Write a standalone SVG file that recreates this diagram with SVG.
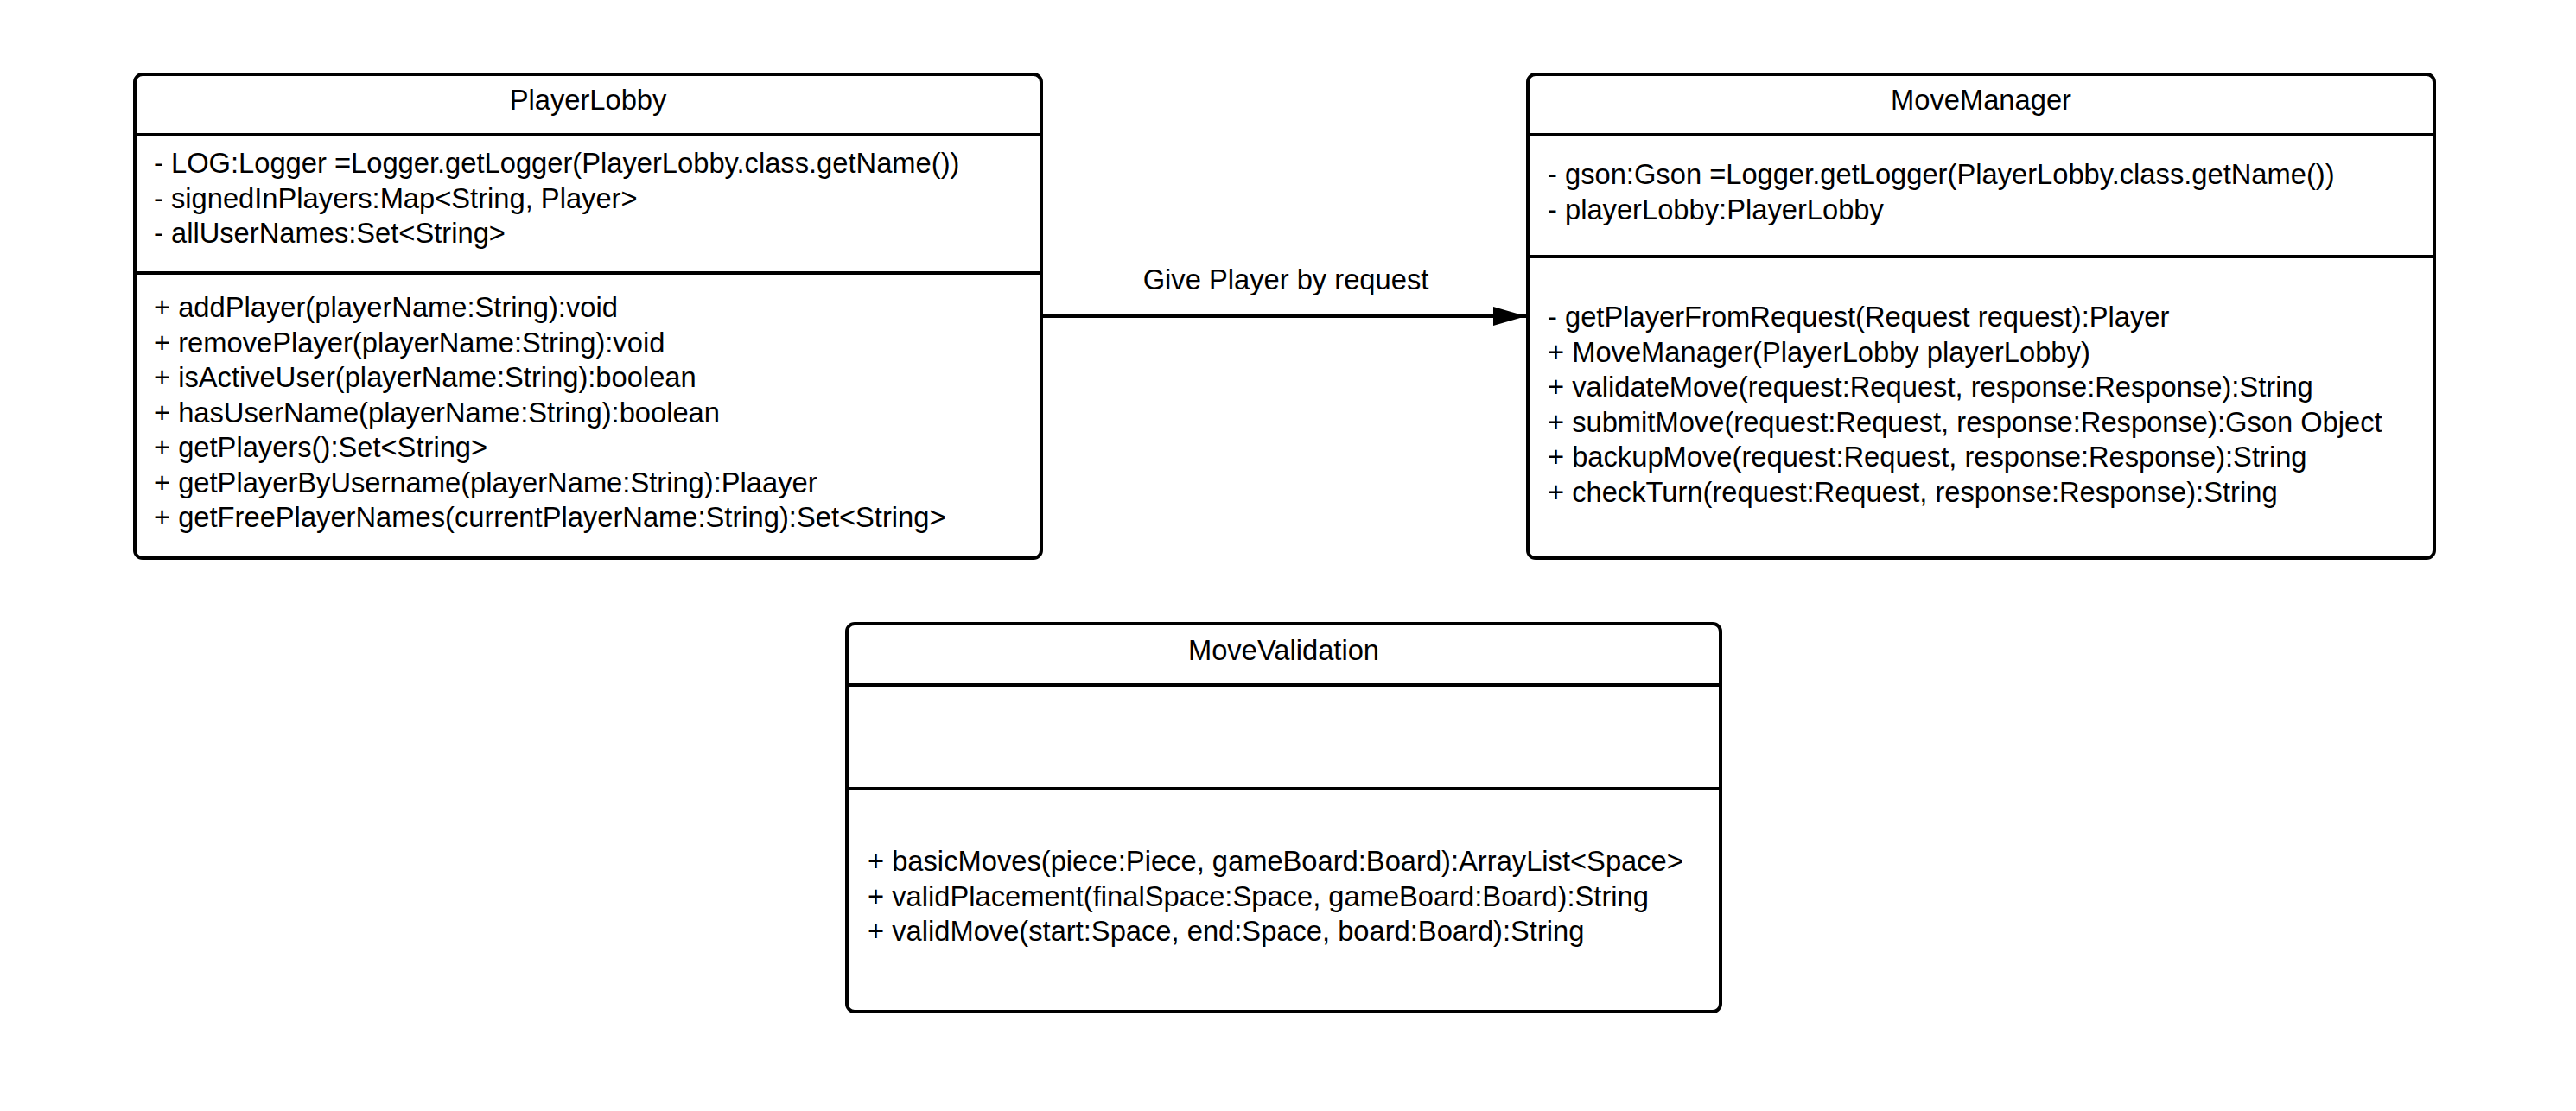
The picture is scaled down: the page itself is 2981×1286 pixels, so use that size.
<svg xmlns="http://www.w3.org/2000/svg" width="2981" height="1286" viewBox="0 0 2981 1286">
<style>
.box{fill:#fff;stroke:#000;stroke-width:4}
.div{stroke:#000;stroke-width:4}
.t{font-family:"Liberation Sans",Arial,sans-serif;font-size:32.7px;fill:#000}
.c{text-anchor:middle}
.conn{stroke:#000;stroke-width:4;fill:none}
</style>
<defs>
<marker id="arr" markerUnits="userSpaceOnUse" markerWidth="40" markerHeight="24" refX="38" refY="12" orient="auto">
<path d="M0,1 L38,12 L0,23 Z" fill="#000"/>
</marker>
</defs>
<rect width="2981" height="1286" fill="#fff"/>
<g id="PlayerLobby">
<rect class="box" x="156" y="86" width="1049" height="560" rx="9"/>
<line class="div" x1="156" y1="156" x2="1205" y2="156"/>
<line class="div" x1="156" y1="316" x2="1205" y2="316"/>
<text class="t c" x="680.5" y="127">PlayerLobby</text>
<text class="t" x="178" y="200">- LOG:Logger =Logger.getLogger(PlayerLobby.class.getName())</text>
<text class="t" x="178" y="240.5">- signedInPlayers:Map&lt;String, Player&gt;</text>
<text class="t" x="178" y="281">- allUserNames:Set&lt;String&gt;</text>
<text class="t" x="178" y="367">+ addPlayer(playerName:String):void</text>
<text class="t" x="178" y="407.5">+ removePlayer(playerName:String):void</text>
<text class="t" x="178" y="448">+ isActiveUser(playerName:String):boolean</text>
<text class="t" x="178" y="488.5">+ hasUserName(playerName:String):boolean</text>
<text class="t" x="178" y="529">+ getPlayers():Set&lt;String&gt;</text>
<text class="t" x="178" y="569.5">+ getPlayerByUsername(playerName:String):Plaayer</text>
<text class="t" x="178" y="610">+ getFreePlayerNames(currentPlayerName:String):Set&lt;String&gt;</text>
</g>
<g id="MoveManager">
<rect class="box" x="1768" y="86" width="1049" height="560" rx="9"/>
<line class="div" x1="1768" y1="156" x2="2817" y2="156"/>
<line class="div" x1="1768" y1="297" x2="2817" y2="297"/>
<text class="t c" x="2292.5" y="127">MoveManager</text>
<text class="t" x="1791" y="213">- gson:Gson =Logger.getLogger(PlayerLobby.class.getName())</text>
<text class="t" x="1791" y="253.5">- playerLobby:PlayerLobby</text>
<text class="t" x="1791" y="378">- getPlayerFromRequest(Request request):Player</text>
<text class="t" x="1791" y="418.5">+ MoveManager(PlayerLobby playerLobby)</text>
<text class="t" x="1791" y="459">+ validateMove(request:Request, response:Response):String</text>
<text class="t" x="1791" y="499.5">+ submitMove(request:Request, response:Response):Gson Object</text>
<text class="t" x="1791" y="540">+ backupMove(request:Request, response:Response):String</text>
<text class="t" x="1791" y="580.5">+ checkTurn(request:Request, response:Response):String</text>
</g>
<g id="MoveValidation">
<rect class="box" x="980" y="722" width="1011" height="449" rx="9"/>
<line class="div" x1="980" y1="793" x2="1991" y2="793"/>
<line class="div" x1="980" y1="913" x2="1991" y2="913"/>
<text class="t c" x="1485.5" y="764">MoveValidation</text>
<text class="t" x="1004" y="1008">+ basicMoves(piece:Piece, gameBoard:Board):ArrayList&lt;Space&gt;</text>
<text class="t" x="1004" y="1048.5">+ validPlacement(finalSpace:Space, gameBoard:Board):String</text>
<text class="t" x="1004" y="1089">+ validMove(start:Space, end:Space, board:Board):String</text>
</g>
<g id="connectors">
<line class="conn" x1="1205" y1="366" x2="1766" y2="366" marker-end="url(#arr)"/>
<text class="t c" x="1488" y="335">Give Player by request</text>
</g>
</svg>
